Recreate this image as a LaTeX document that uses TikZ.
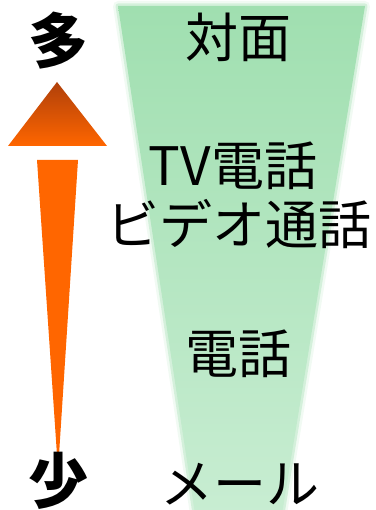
\documentclass[tikz,border=0pt]{standalone}
\usepackage{fontspec}
\newfontfamily\jp{Noto Sans CJK JP}
\definecolor{gtop}{HTML}{A0DFB0}
\definecolor{gbot}{HTML}{C8EDD2}
\definecolor{otop}{HTML}{B0400A}
\definecolor{obot}{HTML}{FF6600}
\tikzset{
  lbl/.style={font=\jp\fontsize{53}{60}\selectfont, inner sep=0pt, anchor=center},
  big/.style={font=\jp\bfseries\fontsize{60}{64}\selectfont, inner sep=0pt, anchor=center},
}
\begin{document}
\begin{tikzpicture}[x=1pt,y=-1pt]
\useasboundingbox (0,0) rectangle (375,510);
% green funnel with soft edges
\draw[gtop!50!white, line width=10pt, opacity=0.3, line join=round] (118,6) -- (365,6) -- (282,514) -- (195,514) -- cycle;
\draw[gtop!75!white, line width=5pt, opacity=0.5, line join=round] (118,6) -- (365,6) -- (282,514) -- (195,514) -- cycle;
\shade[top color=gtop, bottom color=gbot] (118,6) -- (365,6) -- (282,514) -- (195,514) -- cycle;
% arrow
\shade[top color=otop, bottom color=obot] (57,82) -- (107,146) -- (8,146) -- cycle;
\fill[obot] (37,160) -- (78,160) -- (59,455) -- (57,455) -- cycle;
% labels
\node[lbl] (face) at (238,37) {対面};
\node[lbl] (tv) at (233,166) {TV電話};
\node[lbl] (video) at (239,224) {ビデオ通話};
\node[lbl] (tel) at (238,354) {電話};
\node[lbl] (mail) at (240,484) {メール};
% many / few
\node[big] (many) at (58,41) {多};
\node[big] (few) at (58,481) {少};
\end{tikzpicture}
\end{document}
